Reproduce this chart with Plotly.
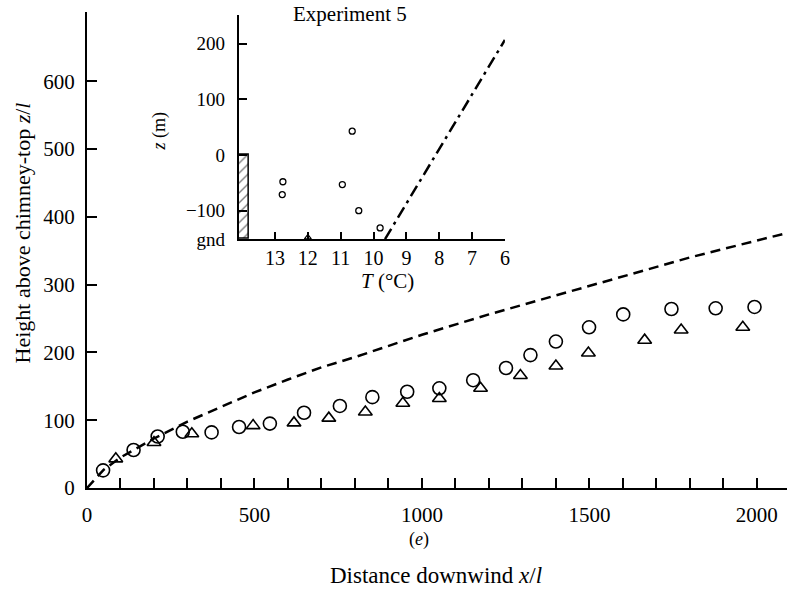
import plotly.graph_objects as go

# ---- main panel: plume height vs distance downwind ----
circle_x = [48, 139, 211, 286, 372, 454, 546, 648, 755, 852, 956,
            1052, 1153, 1251, 1324, 1400, 1499, 1601, 1745, 1877, 1993]
circle_z = [26, 56, 76, 83, 82, 90, 95, 111, 121, 134, 142,
            147, 159, 177, 196, 216, 237, 256, 264, 265, 267]

triangle_x = [86, 200, 313, 496, 618, 722, 831, 943,
              1052, 1175, 1294, 1400, 1497, 1665, 1774, 1958]
triangle_z = [43, 67, 80, 92, 96, 103, 112, 125,
              132, 147, 166, 180, 199, 218, 233, 237]

# theoretical rise curve (dashed)
curve_x = [0, 50, 100, 200, 300, 400, 500, 600, 700, 800, 1000,
           1200, 1400, 1600, 1800, 2000, 2090]
curve_z = [0, 27, 45, 73, 98, 120, 141, 160, 178, 193, 226,
           256, 284, 313, 340, 365, 376]

x_ticks = [0, 500, 1000, 1500, 2000]
z_ticks = [0, 100, 200, 300, 400, 500, 600]

# ---- inset: temperature sounding, Experiment 5 ----
sound_T = [12.76, 12.78, 10.65, 10.95, 10.45, 9.8]
sound_z = [-48, -71, 43, -53, -100, -131]
ground_mark_T = [12.0]
ground_mark_z = [-148]
adiabat_T = [9.65, 6.0]
adiabat_z = [-151, 207]
chimney_top = 0
ground_level = -151
inset_T_ticks = [13, 12, 11, 10, 9, 8, 7, 6]
inset_z_ticks = [ground_level, -100, 0, 100, 200]
inset_z_text = ["gnd", "\u2212100", "0", "100", "200"]

SERIF = "'Liberation Serif', 'Times New Roman', serif"
BLACK = "black"

fig = go.Figure()

fig.add_trace(go.Scatter(
    x=curve_x, y=curve_z, mode="lines",
    line=dict(color=BLACK, width=2.5, dash="10px,6px"),
    xaxis="x", yaxis="y", showlegend=False, hoverinfo="skip"))
fig.add_trace(go.Scatter(
    x=circle_x, y=circle_z, mode="markers",
    marker=dict(symbol="circle-open", size=13, color=BLACK, line=dict(width=1.6)),
    xaxis="x", yaxis="y", showlegend=False))
fig.add_trace(go.Scatter(
    x=triangle_x, y=triangle_z, mode="markers",
    marker=dict(symbol="triangle-up-open", size=12, color=BLACK, line=dict(width=1.6)),
    xaxis="x", yaxis="y", showlegend=False))

# inset traces
fig.add_trace(go.Bar(
    x=[13.95], y=[chimney_top - ground_level], base=[ground_level], width=[0.3],
    marker=dict(color="white", line=dict(color=BLACK, width=1.5),
                pattern=dict(shape="/", fgcolor=BLACK, bgcolor="white",
                             size=7, solidity=0.2)),
    xaxis="x2", yaxis="y2", showlegend=False, hoverinfo="skip"))
fig.add_trace(go.Scatter(
    x=adiabat_T, y=adiabat_z, mode="lines",
    line=dict(color=BLACK, width=2.5, dash="12px,5px,3px,5px"),
    xaxis="x2", yaxis="y2", showlegend=False, hoverinfo="skip"))
fig.add_trace(go.Scatter(
    x=sound_T, y=sound_z, mode="markers",
    marker=dict(symbol="circle-open", size=6, color=BLACK, line=dict(width=1.3)),
    xaxis="x2", yaxis="y2", showlegend=False))
fig.add_trace(go.Scatter(
    x=ground_mark_T, y=ground_mark_z, mode="markers",
    marker=dict(symbol="triangle-up-open", size=6, color=BLACK, line=dict(width=1.2)),
    xaxis="x2", yaxis="y2", showlegend=False))

axis_common = dict(showgrid=False, zeroline=False, showline=True,
                   linecolor=BLACK, linewidth=2, ticks="inside",
                   tickcolor=BLACK, tickwidth=1.5)

fig.update_layout(
    width=795, height=590,
    margin=dict(l=87, r=3, t=12, b=102),
    paper_bgcolor="white", plot_bgcolor="white",
    font=dict(family=SERIF, size=20, color=BLACK),
    bargap=0,
    xaxis=dict(**axis_common, range=[0, 2090], tickvals=x_ticks, ticklen=10,
               minor=dict(dtick=100, tick0=0, ticks="inside", ticklen=10,
                          tickcolor=BLACK, tickwidth=1.5),
               ticklabelstandoff=7, tickfont=dict(family=SERIF, size=21)),
    yaxis=dict(**axis_common, range=[0, 702], tickvals=z_ticks, ticklen=10,
               ticklabelstandoff=6, tickfont=dict(family=SERIF, size=21)),
    xaxis2=dict(**axis_common, domain=[0.217, 0.597], anchor="y2",
                range=[14.1, 6], tickvals=inset_T_ticks, ticklen=7,
                ticklabelstandoff=0, tickfont=dict(family=SERIF, size=20)),
    yaxis2=dict(**axis_common, domain=[0.523, 0.994], anchor="x2",
                range=[ground_level, 252], tickvals=inset_z_ticks,
                ticktext=inset_z_text, ticklen=8, ticklabelstandoff=8,
                tickfont=dict(family=SERIF, size=19)),
)

annotations = [
    dict(text="Height above chimney-top <i>z</i>/<i>l</i>", x=-0.092, y=0.536,
         textangle=-90, font=dict(family=SERIF, size=22)),
    dict(text="Distance downwind <i>x</i>/<i>l</i>", x=0.499, y=-0.183,
         font=dict(family=SERIF, size=23)),
    dict(text="(<i>e</i>)", x=0.474, y=-0.109,
         font=dict(family=SERIF, size=18)),
    dict(text="Experiment 5", x=0.376, y=0.996,
         font=dict(family=SERIF, size=21)),
    dict(text="<i>z</i> (m)", x=(160 - 87) / 705, y=(488 - 131) / 476,
         textangle=-90, font=dict(family=SERIF, size=18)),
    dict(text="<i>T</i> (\u00b0C)", x=(390 - 87) / 705, y=(488 - 281) / 476,
         font=dict(family=SERIF, size=21)),
]
for a in annotations:
    fig.add_annotation(xref="paper", yref="paper", showarrow=False,
                       xanchor="center", yanchor="middle", **a)

fig.write_html("out.html")
